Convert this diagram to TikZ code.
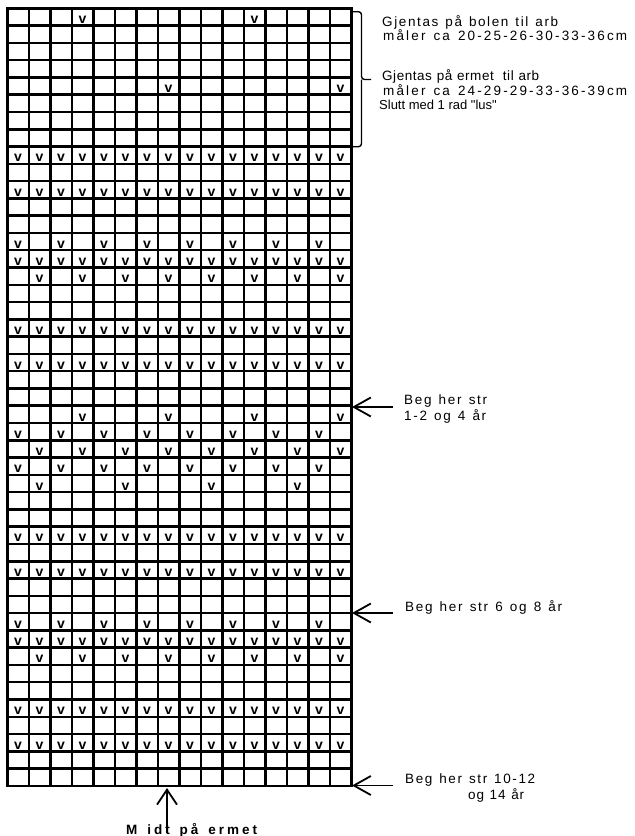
\documentclass[tikz,border=0pt]{standalone}
\usepackage{fontspec}
\setmainfont{Liberation Sans}
\font\rawsans="Liberation Sans" at 13pt
\usetikzlibrary{arrows.meta}
\ExplSyntaxOn
\NewDocumentCommand\spreadto{mm}
  {\hbox to #1 {\tl_map_inline:nn {#2} {##1\hfil} \unskip}}
\ExplSyntaxOff
\begin{document}
\begin{tikzpicture}[x=1pt,y=-1pt,
  gridline/.style={line width=2.5pt,line cap=rect},
  stitch/.style={anchor=base,inner sep=0pt,font=\fontsize{14}{14}\selectfont\bfseries},
  lbl/.style={anchor=base west,inner sep=0pt,font=\fontsize{13.5}{15}\selectfont},
  pointer/.style={line width=1.8pt,-{Straight Barb[length=17pt,width=19pt]}},
  bracket/.style={line width=1.4pt,rounded corners=3pt}]
\useasboundingbox (0,0) rectangle (635,836);
% grid
\foreach \c in {0,...,16}
  \draw[gridline] ({7.3+21.5*\c},8.3) -- ({7.3+21.5*\c},786);
\foreach \r in {0,...,45}
  \draw[gridline] (7.3,{8.3+17.28*\r}) -- (351.3,{8.3+17.28*\r});
% stitches
\foreach \r/\cols in {1/{4,12},5/{8,16},9/{1,...,16},11/{1,...,16},
  14/{1,3,...,15},15/{1,...,16},16/{2,4,...,16},19/{1,...,16},21/{1,...,16},
  24/{4,8,12,16},25/{1,3,...,15},26/{2,4,...,16},27/{1,3,...,15},28/{2,6,10,14},
  31/{1,...,16},33/{1,...,16},36/{1,3,...,15},37/{1,...,16},38/{2,4,...,16},
  41/{1,...,16},43/{1,...,16}}{
  \foreach \c in \cols
    \node[stitch] (s-\r-\c) at ({7.3+21.5*(\c-0.5)},{8.3+17.28*\r-2}) {v};
}
% bracket
\coordinate (bt) at (352,11.7);
\coordinate (bm) at (361.5,79.5);
\coordinate (bx) at (371,79.5);
\coordinate (bb) at (352,146.7);
\draw[bracket] (bt) -| (bm) -- (bx);
\draw[bracket] (bm) |- (bb);
% texts
\node[lbl] (t1) at (382,26) {\spreadto{176pt}{Gjentas\ på\ bolen\ til\ arb}};
\node[lbl] (t2) at (383,40.7) {\spreadto{244pt}{måler\ ca\ 20-25-26-30-33-36cm}};
\node[lbl] (t3) at (382,80) {\spreadto{157pt}{Gjentas\ på\ ermet\ \ til\ arb}};
\node[lbl] (t4) at (383,95) {\spreadto{244pt}{måler\ ca\ 24-29-29-33-36-39cm}};
\node[lbl] (t5) at (379,109) {\rawsans Slutt med 1 rad "lus"};
\node[lbl] (b1a) at (404,404.3) {\spreadto{83pt}{Beg\ her\ str}};
\node[lbl] (b1b) at (404,420.5) {\spreadto{82pt}{1-2\ og\ 4\ år}};
\node[lbl] (b2) at (405,611) {\spreadto{157pt}{Beg\ her\ str\ 6\ og\ 8\ år}};
\node[lbl] (b3a) at (405,783.3) {\spreadto{130pt}{Beg\ her\ str\ 10-12}};
\node[lbl] (b3b) at (468,799) {\spreadto{56pt}{og\ 14\ år}};
\node[lbl,font=\fontsize{13.5}{15}\selectfont\bfseries] (mid) at (126,834) {\spreadto{131pt}{M\ idt\ på\ ermet}};
% pointers
\coordinate (p1s) at (393,407);
\coordinate (p1e) at (352,407);
\coordinate (p2s) at (393,613);
\coordinate (p2e) at (352,613);
\coordinate (p3s) at (393,785.5);
\coordinate (p3e) at (352,785.5);
\coordinate (pms) at (167,833);
\coordinate (pme) at (167,788);
\draw[pointer] (p1s) -- (p1e);
\draw[pointer] (p2s) -- (p2e);
\draw[pointer] (p3s) -- (p3e);
\draw[pointer,-{Straight Barb[length=15pt,width=20pt]}] (pms) -- (pme);
\end{tikzpicture}
\end{document}
